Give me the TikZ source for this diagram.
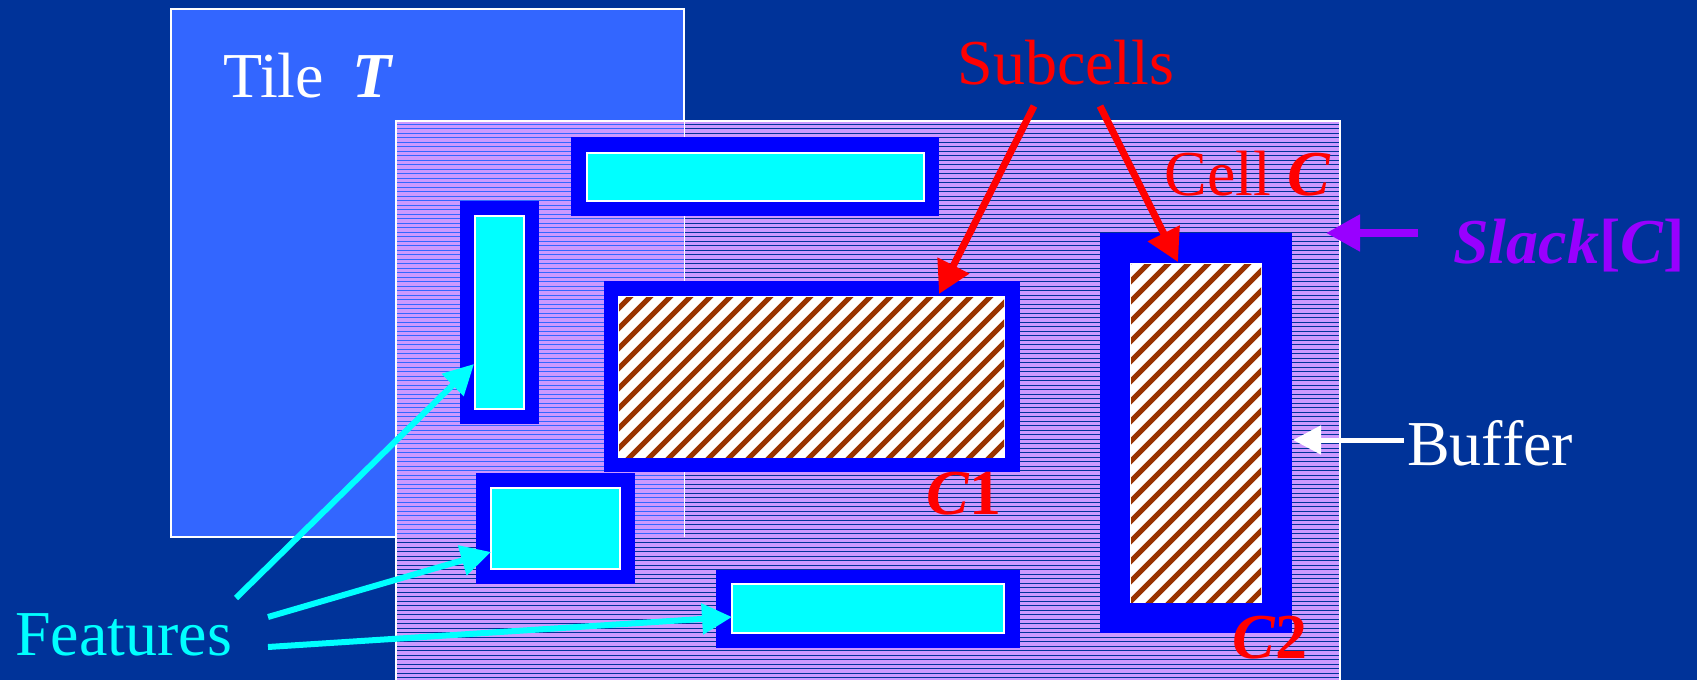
\documentclass[tikz,border=0pt]{standalone}
\usepackage{fontspec}
\setmainfont{Liberation Serif}
\usetikzlibrary{arrows.meta}
\definecolor{bg}{HTML}{003399}
\definecolor{tilec}{HTML}{3366FF}
\definecolor{lav}{HTML}{CC99FF}
\definecolor{buf}{HTML}{0000FF}
\definecolor{feat}{HTML}{00FFFF}
\definecolor{brown}{HTML}{993300}
\definecolor{purp}{HTML}{9900FF}
\tikzset{
  bigtext/.style={font=\fontsize{64}{72}\selectfont, inner sep=0pt},
  bufbox/.style={fill=buf},
  featbox/.style={fill=feat, draw=white, line width=1.2pt},
  subbox/.style={fill=white, draw=white, line width=1.2pt},
  redarrow/.style={draw=red, line width=7pt, -{Triangle[length=32pt,width=34pt]}},
  cyanarrow/.style={draw=feat, line width=6pt, -{Triangle[length=30pt,width=30pt]}},
  purparrow/.style={draw=purp, line width=8pt, -{Triangle[length=34pt,width=35pt]}},
  whitearrow/.style={draw=white, line width=5pt, -{Triangle[length=28pt,width=28pt]}},
}
\newcommand{\bi}[1]{\textbf{\textit{#1}}}
\begin{document}
\begin{tikzpicture}[x=1pt,y=-1pt]
\fill[bg] (0,0) rectangle (1697,680);
\useasboundingbox (0,0) rectangle (1697,680);
% tile
\draw[white, line width=1.2pt, fill=tilec] (171,9) rectangle (684,537);
% cell C
\fill[lav] (396,121) rectangle (1340,680);
\foreach \y in {124,128.5,...,680} \draw[bg, line width=0.9pt] (396,\y) -- (1340,\y);
\begin{scope}
  \clip (171,9) rectangle (684,537);
  \foreach \y in {124,128.5,...,680} \draw[tilec, line width=0.9pt] (396,\y) -- (1340,\y);
\end{scope}
\draw[white, line width=1pt] (684,121) -- (684,537);
\draw[white, line width=1.2pt] (396,680) -- (396,121) -- (1340,121) -- (1340,680);
% features
\fill[bufbox] (571,137) rectangle (939,216);
\draw[featbox] (587,153) rectangle (924,201);
\fill[bufbox] (460,201) rectangle (539,424);
\draw[featbox] (475,216) rectangle (524,409);
\fill[bufbox] (476,473) rectangle (635,584);
\draw[featbox] (491,488) rectangle (620,569);
\fill[bufbox] (716,570) rectangle (1020,648);
\draw[featbox] (732,584) rectangle (1004,633);
% subcell C1
\fill[bufbox] (604,281) rectangle (1020,472);
\draw[subbox] (619,297) rectangle (1004,457);
\begin{scope}
  \clip (619,297) rectangle (1004,457);
  \foreach \x in {440,460,...,1020} \draw[brown, line width=5pt] (\x,467) -- (\x+180,287);
\end{scope}
% subcell C2
\fill[bufbox] (1100,233) rectangle (1292,633);
\draw[subbox] (1131,264) rectangle (1261,602);
\begin{scope}
  \clip (1131,264) rectangle (1261,602);
  \foreach \x in {780,800,...,1280} \draw[brown, line width=5pt] (\x,612) -- (\x+358,254);
\end{scope}
% labels
\node[bigtext, white, anchor=base west] (tileT) at (223,97) {Tile\hspace{0.45em}\bi{T}};
\node[bigtext, red, anchor=base] (subcells) at (1066,84) {Subcells};
\node[bigtext, red, anchor=base east] (cellC) at (1331,195) {Cell \bi{C}};
\node[bigtext, purp, anchor=base west] (slack) at (1453,263) {\bi{Slack}\textbf{[}\bi{C}\textbf{]}};
\node[bigtext, white, anchor=base west] (buffer) at (1407,465) {Buffer};
\node[bigtext, red, anchor=base west] (c1) at (926,514) {\bi{C}\textbf{1}};
\node[bigtext, red, anchor=base west] (c2) at (1232,658) {\bi{C}\textbf{2}};
\node[bigtext, feat, anchor=base west] (features) at (15,655) {Features};
% arrow endpoints
\coordinate (s1) at (1034,106);
\coordinate (s2) at (1100,106);
\coordinate (c1top) at (939,294);
\coordinate (c2top) at (1178,262);
\coordinate (slackstart) at (1418,233);
\coordinate (cellright) at (1326,233);
\coordinate (bufstart) at (1404,440);
\coordinate (bufend) at (1293,440);
\coordinate (f1) at (236,598);
\coordinate (f2) at (268,617);
\coordinate (f3) at (268,647);
\coordinate (ft1) at (474,364);
\coordinate (ft2) at (491,552);
\coordinate (ft3) at (732,617);
\draw[redarrow] (s1) -- (c1top);
\draw[redarrow] (s2) -- (c2top);
\draw[purparrow] (slackstart) -- (cellright);
\draw[whitearrow] (bufstart) -- (bufend);
\draw[cyanarrow] (f1) -- (ft1);
\draw[cyanarrow] (f2) -- (ft2);
\draw[cyanarrow] (f3) -- (ft3);
\end{tikzpicture}
\end{document}
